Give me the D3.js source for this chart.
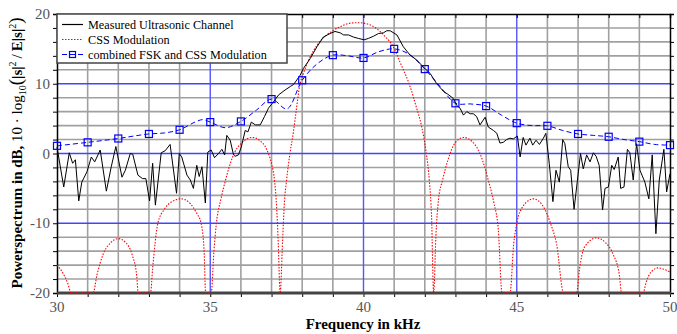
<!DOCTYPE html>
<html>
<head>
<meta charset="utf-8">
<script src="https://d3js.org/d3.v7.min.js"></script>
<style>
  body { margin: 0; background: #fff; }
  svg { display: block; font-family: "Liberation Serif", "Times New Roman", serif; }
</style>
</head>
<body>
<svg id="chart" width="677" height="334"></svg>
<script>

// measured ultrasonic channel (kHz, dB)
var measFreq = [30.00, 30.22, 30.40, 30.51, 30.60, 30.71, 30.81, 30.98, 31.12, 31.23,
  31.41, 31.61, 31.77, 31.92, 32.12, 32.23, 32.39, 32.47, 32.64, 32.79,
  32.90, 33.02, 33.12, 33.21, 33.40, 33.53, 33.69, 33.90, 33.99, 34.07,
  34.24, 34.35, 34.45, 34.56, 34.64, 34.73, 34.84, 34.92, 35.03, 35.14,
  35.27, 35.38, 35.47, 35.54, 35.65, 35.76, 35.81, 35.92, 36.01, 36.14,
  36.23, 36.34, 36.47, 36.63, 36.77, 36.90, 37.06, 37.23, 37.44, 37.61,
  37.72, 37.93, 38.04, 38.26, 38.48, 38.69, 38.91, 39.07, 39.24, 39.35,
  39.51, 39.67, 39.83, 40.02, 40.16, 40.32, 40.49, 40.65, 40.76, 40.87,
  41.09, 41.30, 41.52, 41.74, 41.95, 42.17, 42.39, 42.61, 42.75, 42.93,
  43.04, 43.15, 43.26, 43.37, 43.48, 43.58, 43.69, 43.80, 43.97, 44.07,
  44.24, 44.35, 44.45, 44.56, 44.67, 44.78, 44.89, 45.02, 45.11, 45.21,
  45.30, 45.43, 45.52, 45.63, 45.74, 45.87, 45.95, 46.06, 46.18, 46.28,
  46.39, 46.50, 46.57, 46.68, 46.76, 46.87, 47.08, 47.17, 47.28, 47.39,
  47.50, 47.59, 47.69, 47.80, 47.88, 47.99, 48.10, 48.18, 48.31, 48.39,
  48.50, 48.61, 48.69, 48.80, 48.91, 49.02, 49.18, 49.31, 49.42, 49.54,
  49.65, 49.80, 49.89, 50.00];
var measDb = [0.9, -4.8, 0.1, -1.4, -0.9, -6.8, -4.1, -2.6, -0.5, -1.2,
  0.5, -5.4, -1.9, 1.0, -3.4, -2.4, 0.0, -0.1, -3.1, -3.6,
  -3.6, -6.8, -1.4, -7.4, 0.1, 0.4, 1.3, -5.7, 0.0, -0.5,
  -3.1, -3.8, -5.0, -1.7, -3.3, -1.9, -7.1, 0.2, 0.5, -0.6,
  0.0, 0.6, -0.2, 2.6, 1.9, -0.2, -0.4, -0.2, 0.9, 3.3,
  3.1, 4.5, 4.1, 4.1, 5.3, 6.5, 7.4, 8.4, 9.1, 9.6,
  9.9, 11.2, 12.2, 13.6, 15.3, 16.7, 17.2, 17.5, 17.3, 17.0,
  17.0, 16.7, 16.5, 16.3, 16.5, 16.8, 17.2, 17.3, 17.6, 17.6,
  17.0, 15.3, 14.1, 13.4, 12.4, 11.5, 10.0, 8.9, 8.5, 7.9,
  6.9, 6.5, 5.5, 6.0, 5.7, 5.7, 5.3, 4.1, 5.2, 3.8,
  3.3, 2.9, 1.5, 1.6, 2.0, 2.2, 2.1, 2.5, -0.5, 2.3,
  1.2, 2.2, 1.2, 1.9, 1.3, 2.2, 2.9, -1.4, -6.9, -2.4,
  -4.1, 2.0, 1.4, -1.9, -2.4, -8.0, 0.0, -2.2, -0.2, -1.2,
  0.1, -0.4, -1.7, -8.1, -5.0, -4.8, -1.7, -2.3, -0.5, -5.0,
  -4.8, 0.6, 0.1, -3.8, 1.4, -2.4, -4.1, -6.5, -0.2, -11.5,
  -3.8, 0.6, -5.5, -2.9];

// CSS modulation (kHz, dB), clipped at -20 dB
var cssFreq = [30.00, 30.20, 30.35, 30.46, 31.18, 31.30, 31.50, 31.75, 32.00, 32.25,
  32.45, 32.60, 32.65, 33.05, 33.12, 33.29, 33.50, 33.75, 34.06, 34.35,
  34.55, 34.70, 34.80, 34.85, 35.03, 35.12, 35.20, 35.35, 35.50, 35.65,
  35.80, 36.00, 36.20, 36.38, 36.60, 36.85, 37.00, 37.10, 37.17, 37.22,
  37.28, 37.36, 37.42, 37.49, 37.60, 37.71, 37.80, 37.92, 38.04, 38.20,
  38.50, 38.80, 39.00, 39.30, 39.60, 39.85, 40.10, 40.40, 40.70, 40.97,
  41.20, 41.52, 41.70, 41.90, 42.05, 42.15, 42.22, 42.29, 42.36, 42.45,
  42.58, 42.75, 43.00, 43.27, 43.55, 43.80, 44.07, 44.25, 44.40, 44.52,
  44.78, 44.90, 45.00, 45.20, 45.54, 45.85, 46.10, 46.30, 46.53, 46.95,
  47.05, 47.20, 47.60, 47.90, 48.15, 48.35, 48.42, 49.12, 49.22, 49.38,
  49.62, 49.80, 50.00];
var cssDb = [-16.0, -17.2, -18.6, -20, -20, -17.5, -14.5, -12.8, -12.2, -12.8,
  -14.5, -17.5, -20, -20, -16.5, -10.0, -8.0, -6.9, -6.5, -7.2,
  -8.5, -10.0, -14.0, -20, -20, -14.0, -10.0, -6.5, -3.8, -1.5,
  0.2, 1.4, 2.1, 2.3, 1.9, 0.5, -1.5, -4.0, -8.0, -13.0,
  -20, -12.5, -7.0, -3.8, 0.0, 3.0, 6.0, 9.8, 11.5, 13.3,
  15.6, 17.0, 17.6, 18.3, 18.7, 18.75, 18.6, 18.0, 16.8, 15.3,
  13.0, 9.6, 7.0, 3.8, 0.0, -4.0, -9.0, -20, -12.0, -6.5,
  -3.8, -1.0, 1.6, 2.3, 1.7, 0.0, -3.8, -7.0, -11.0, -20,
  -20, -13.0, -10.0, -7.6, -6.5, -7.5, -10.0, -13.0, -20, -20,
  -16.5, -13.5, -12.1, -12.8, -14.5, -17.5, -20, -20, -18.5, -17.0,
  -16.4, -16.6, -17.0];

// combined FSK and CSS modulation (kHz, dB), markers at whole kHz
var comboFreq = [30, 31, 32, 32.5, 33, 33.5, 34, 34.5, 34.75, 35,
  35.5, 36, 36.5, 37, 37.5, 38, 38.5, 39, 39.5, 40,
  40.5, 41, 41.5, 42, 42.5, 43, 43.5, 44, 44.5, 45,
  45.5, 46, 46.5, 47, 47.5, 48, 48.5, 49, 49.5, 50];
var comboDb = [1.1, 1.6, 2.15, 2.5, 2.8, 2.95, 3.4, 4.5, 4.85, 4.5,
  3.7, 4.6, 6.2, 7.8, 6.4, 10.5, 12.9, 14.1, 14.0, 13.7,
  14.6, 15.0, 14.2, 12.1, 9.6, 7.2, 7.1, 6.8, 5.5, 4.35,
  4.0, 3.97, 3.3, 2.8, 2.6, 2.4, 2.0, 1.7, 1.3, 1.2];

var xTicks = [30, 35, 40, 45, 50];
var yTicks = [-20, -10, 0, 10, 20];
var xMajorGrid = [35, 40, 45];
var yMajorGrid = [-10, 0, 10];
var legendLabels = ["Measured Ultrasonic Channel", "CSS Modulation", "combined FSK and CSS Modulation"];

var svg = d3.select("#chart"),
    plotL = 57, plotR = 670, plotT = 14, plotB = 293;

var x = d3.scaleLinear().domain([30, 50]).range([plotL, plotR]);
var y = d3.scaleLinear().domain([-20, 20]).range([plotB, plotT]);

// grid
var grid = svg.append("g");
grid.selectAll("line.gx")
  .data(d3.range(31, 50).filter(function(d) { return xMajorGrid.indexOf(d) < 0; }))
  .enter().append("line")
    .attr("x1", x).attr("x2", x).attr("y1", plotT).attr("y2", plotB)
    .attr("stroke", "#a0a0a0").attr("stroke-width", 1.6);
grid.selectAll("line.gy")
  .data(d3.range(-18, 20, 2).filter(function(d) { return yMajorGrid.indexOf(d) < 0; }))
  .enter().append("line")
    .attr("x1", plotL).attr("x2", plotR).attr("y1", y).attr("y2", y)
    .attr("stroke", "#a0a0a0").attr("stroke-width", 1.6);
grid.selectAll("line.mx")
  .data(xMajorGrid)
  .enter().append("line")
    .attr("x1", x).attr("x2", x).attr("y1", plotT).attr("y2", plotB)
    .attr("stroke", "#5555ff").attr("stroke-width", 1.4);
grid.selectAll("line.my")
  .data(yMajorGrid)
  .enter().append("line")
    .attr("x1", plotL).attr("x2", plotR).attr("y1", y).attr("y2", y)
    .attr("stroke", "#4444ff").attr("stroke-width", 1.4);

// frame + small ticks
var minorX = d3.range(30, 51), minorY = d3.range(-20, 21, 2);
svg.append("g").attr("transform", "translate(0," + plotT + ")")
  .call(d3.axisBottom(x).tickValues(minorX).tickSize(4).tickFormat(""))
  .call(function(g) { g.select(".domain").attr("stroke-width", 1.5); });
svg.append("g").attr("transform", "translate(0," + plotB + ")")
  .call(d3.axisBottom(x).tickValues(minorX).tickSize(4).tickFormat(""))
  .call(function(g) { g.select(".domain").remove(); });
svg.append("g").attr("transform", "translate(" + plotL + ",0)")
  .call(d3.axisLeft(y).tickValues(minorY).tickSize(4).tickFormat(""))
  .call(function(g) { g.select(".domain").attr("stroke-width", 1.5); });
svg.append("g").attr("transform", "translate(" + plotR + ",0)")
  .call(d3.axisRight(y).tickValues(minorY).tickSize(4).tickFormat(""))
  .call(function(g) { g.select(".domain").attr("stroke-width", 1.5); });
svg.append("line")
  .attr("x1", plotL).attr("x2", plotR + 1).attr("y1", plotB).attr("y2", plotB)
  .attr("stroke", "#444").attr("stroke-width", 3);

// tick labels
svg.append("g").selectAll("text")
  .data(xTicks)
  .enter().append("text")
    .attr("x", x).attr("y", plotB + 19)
    .attr("text-anchor", "middle")
    .attr("font-size", 15).attr("fill", "#555")
    .text(function(d) { return d; });
svg.append("g").selectAll("text")
  .data(yTicks)
  .enter().append("text")
    .attr("x", plotL - 7).attr("y", function(d) { return y(d) + 5; })
    .attr("text-anchor", "end")
    .attr("font-size", 15).attr("fill", "#555")
    .text(function(d) { return d; });

// series
var measured = measFreq.map(function(f, i) { return [f, measDb[i]]; });
var css = cssFreq.map(function(f, i) { return [f, cssDb[i]]; });
var combo = comboFreq.map(function(f, i) { return [f, comboDb[i]]; });

var lineLinear = d3.line().x(function(d) { return x(d[0]); }).y(function(d) { return y(d[1]); });
var lineSmooth = d3.line().curve(d3.curveMonotoneX)
    .x(function(d) { return x(d[0]); }).y(function(d) { return y(d[1]); });
var lineSpline = d3.line().curve(d3.curveCatmullRom.alpha(0.5))
    .x(function(d) { return x(d[0]); }).y(function(d) { return y(d[1]); });

svg.append("path").datum(css)
  .attr("d", lineSmooth)
  .attr("fill", "none").attr("stroke", "#ff0000").attr("stroke-width", 1.1)
  .attr("stroke-dasharray", "1.5,1.5");

svg.append("path").datum(combo)
  .attr("d", lineSpline)
  .attr("fill", "none").attr("stroke", "#0000ff").attr("stroke-width", 1)
  .attr("stroke-dasharray", "5,3");

svg.append("path").datum(measured)
  .attr("d", lineLinear)
  .attr("fill", "none").attr("stroke", "#000").attr("stroke-width", 1);

svg.append("g").selectAll("rect")
  .data(combo.filter(function(d) { return d[0] % 1 === 0; }))
  .enter().append("rect")
    .attr("x", function(d) { return x(d[0]) - 3.5; })
    .attr("y", function(d) { return y(d[1]) - 3.5; })
    .attr("width", 7).attr("height", 7)
    .attr("fill", "none").attr("stroke", "#0000ff").attr("stroke-width", 1.2);

// legend
var legend = svg.append("g");
legend.append("rect")
  .attr("x", plotL).attr("y", plotT).attr("width", 230).attr("height", 49)
  .attr("fill", "#fff").attr("stroke", "#444").attr("stroke-width", 1.5);
var rows = legend.selectAll("g.row")
  .data(legendLabels)
  .enter().append("g")
    .attr("transform", function(d, i) { return "translate(0," + (24.5 + i * 15) + ")"; });
rows.append("text")
  .attr("x", 88).attr("y", 4.3)
  .attr("font-size", 12.2).attr("fill", "#000")
  .text(function(d) { return d; });
rows.filter(function(d, i) { return i === 0; }).append("line")
  .attr("x1", 62).attr("x2", 83).attr("stroke", "#000").attr("stroke-width", 1.2);
rows.filter(function(d, i) { return i === 1; }).append("line")
  .attr("x1", 62).attr("x2", 83).attr("stroke", "#ff0000").attr("stroke-width", 1.2)
  .attr("stroke-dasharray", "1.5,1.5");
rows.filter(function(d, i) { return i === 2; }).append("line")
  .attr("x1", 62).attr("x2", 83).attr("stroke", "#0000ff").attr("stroke-width", 1)
  .attr("stroke-dasharray", "5,3");
rows.filter(function(d, i) { return i === 2; }).append("rect")
  .attr("x", 69.5).attr("y", -3).attr("width", 6).attr("height", 6)
  .attr("fill", "none").attr("stroke", "#0000ff").attr("stroke-width", 1.2);

// axis titles
svg.append("text")
  .attr("x", 363).attr("y", 329)
  .attr("text-anchor", "middle").attr("font-size", 15).attr("font-weight", "bold")
  .text("Frequency in kHz");

var ylab = svg.append("text")
  .attr("transform", "translate(22,153) rotate(-90)")
  .attr("text-anchor", "middle").attr("font-size", 15);
ylab.append("tspan").attr("font-weight", "bold").text("Powerspectrum in dB, ");
ylab.append("tspan").text("10 \u00b7 log");
ylab.append("tspan").attr("font-size", 10).attr("dy", 4).text("10");
ylab.append("tspan").attr("dy", -4).attr("font-size", 19).text("(");
ylab.append("tspan").attr("font-weight", "bold").text("|s|");
ylab.append("tspan").attr("font-size", 10).attr("dy", -6).text("2");
ylab.append("tspan").attr("dy", 6).text("\u2009/\u2009");
ylab.append("tspan").attr("font-weight", "bold").text("E|s|");
ylab.append("tspan").attr("font-size", 10).attr("dy", -6).text("2");
ylab.append("tspan").attr("dy", 6).attr("font-size", 19).text(")");

</script>
</body>
</html>
